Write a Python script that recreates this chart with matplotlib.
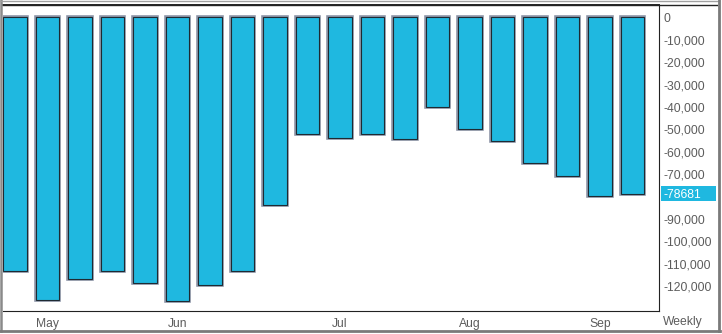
import matplotlib
matplotlib.use("Agg")
import matplotlib.pyplot as plt
import matplotlib.transforms as mtransforms
from matplotlib.patches import Rectangle
from matplotlib.lines import Line2D
import numpy as np

plt.rcParams['font.family'] = ['Liberation Sans', 'DejaVu Sans']

# weekly values
values = [-113100, -126500, -117100, -113100, -118700, -126900, -119400, -113300,
          -84000, -51900, -53900, -52300, -54200, -40000, -50000, -55400,
          -65200, -70900, -79800, -78681]
month_pos = [1, 5, 10, 14, 18]
month_labels = ['May', 'Jun', 'Jul', 'Aug', 'Sep']
ytick_vals = [0, -10000, -20000, -30000, -40000, -50000, -60000, -70000,
              -90000, -100000, -110000, -120000]
last_value = values[-1]

cyan = '#1fb8e0'
txt_gray = '#5c5c5c'

W, H = 722, 334
fig = plt.figure(figsize=(W / 100, H / 100), dpi=100)
ax = fig.add_axes([3 / W, 1 - 311 / H, (659 - 3) / W, (311 - 4.5) / H])

x = np.arange(len(values))
# grey halo then dark outline
ax.bar(x, values, width=0.72, color=cyan, edgecolor='#8c94a6', linewidth=2.6, zorder=2)
ax.bar(x, values, width=0.72, color=cyan, edgecolor='#1e2a33', linewidth=0.8, zorder=3)

ax.set_xlim(-0.37, 19.82)
ax.set_ylim(-131200, 5810)

ax.yaxis.tick_right()
ax.set_yticks(ytick_vals)
ax.set_yticklabels([f'{v:,}' for v in ytick_vals])
ax.tick_params(axis='y', length=0, pad=3, labelsize=8.7, labelcolor=txt_gray)

ax.set_xticks(month_pos)
ax.set_xticklabels(month_labels)
ax.tick_params(axis='x', length=0, pad=5, labelsize=8.7, labelcolor=txt_gray)

for s in ['left']:
    ax.spines[s].set_visible(False)
for s in ['top', 'right', 'bottom']:
    ax.spines[s].set_color('#222222')
    ax.spines[s].set_linewidth(0.8)
ax.spines['top'].set_linewidth(1.4)

# highlighted last value on the axis
trans = mtransforms.blended_transform_factory(fig.transFigure, ax.transData)
ax.add_patch(Rectangle((661 / W, last_value - 3400), 55 / W, 6800, transform=trans,
                       facecolor=cyan, edgecolor='none', clip_on=False, zorder=5))
ax.text(663 / W, last_value, str(last_value), transform=trans, color='white',
        fontsize=8.7, va='center_baseline', ha='left', zorder=6, clip_on=False)

fig.text(663 / W, 1 - 322 / H, 'Weekly', color=txt_gray, fontsize=8.7,
         va='center', ha='left')

# top line across whole figure and outer frame
fig.add_artist(Line2D([3 / W, 717 / W], [1 - 4.5 / H, 1 - 4.5 / H],
                      transform=fig.transFigure, color='#222222', lw=1.0))
fig.add_artist(Line2D([1.2 / W, 1.2 / W], [1 - 331 / H, 1],
                      transform=fig.transFigure, color='#8a8a8a', lw=1.8))
fig.add_artist(Line2D([0, 719 / W], [1 - 0.5 / H, 1 - 0.5 / H],
                      transform=fig.transFigure, color='#a0a0a0', lw=1.0))
fig.add_artist(Line2D([718.5 / W, 718.5 / W], [1 - 331 / H, 1],
                      transform=fig.transFigure, color='#7a7a7a', lw=2.0))
fig.add_artist(Line2D([0, 720 / W], [1 - 330.8 / H, 1 - 330.8 / H],
                      transform=fig.transFigure, color='#7a7a7a', lw=2.0))

fig.savefig('out.png', dpi=100)
